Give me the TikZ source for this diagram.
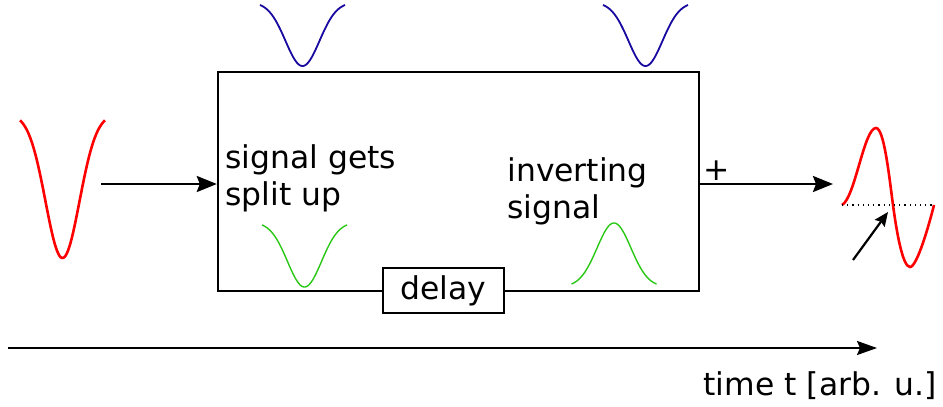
\documentclass[tikz,border=0pt]{standalone}
\usepackage{xcolor}
\usepackage{fontspec}
\setmainfont{DejaVu Sans}
\usetikzlibrary{arrows.meta}

\definecolor{dipblue}{RGB}{24,10,160}
\definecolor{dipgreen}{RGB}{40,200,20}

\begin{document}
\begin{tikzpicture}[x=0.5pt,y=0.5pt,yscale=-1,
  every node/.style={font=\fontsize{15.7}{18.5}\selectfont},
  pulse red/.style={draw=red,line width=1.3pt},
  pulse blue/.style={draw=dipblue,line width=0.9pt},
  pulse green/.style={draw=dipgreen,line width=0.7pt},
  flow/.style={line width=1.2pt,-{Stealth[length=10pt,width=8pt,inset=1.5pt]}}]
\useasboundingbox (0,0) rectangle (943,407);

%Shape: Rectangle [main box]
\node (device) [draw,line width=1.2pt,minimum width=240.5pt,minimum height=109.5pt,inner sep=0] at (458.5,181.5) {};
%Shape: Rectangle [delay]
\node (delay) [draw,fill=white,line width=1.2pt,minimum width=60.5pt,minimum height=22.5pt,inner sep=0] at (443.5,290.5) {delay};

%Curve [input pulse]
\draw [pulse red] plot [domain=-42.5:42.5,samples=70] ({62.5+\x},{114+144*exp(-\x*\x/578)});
%Curve [upper pulses]
\draw [pulse blue] plot [domain=-42.5:42.5,samples=70] ({302.5+\x},{2.2+63.8*exp(-\x*\x/578)});
\draw [pulse blue] plot [domain=-42.5:42.5,samples=70] ({645.5+\x},{2.2+63.8*exp(-\x*\x/578)});
%Curve [lower pulses]
\draw [pulse green] plot [domain=-42.5:42.5,samples=70] ({304.5+\x},{222.1+64.9*exp(-\x*\x/578)});
\draw [pulse green] plot [domain=-42.5:42.5,samples=70] ({614+\x},{286.8-63.8*exp(-\x*\x/578)});
%Curve [output pulse]
\draw [pulse red] (842,205) .. controls (855,198) and (864,128) .. (876,128) .. controls (884,128) and (889,175) .. (893,205) .. controls (897,235) and (903,267) .. (910,267) .. controls (917,267) and (929,225) .. (934,205);
\draw [line width=0.6pt,dotted] (842,205) -- (934,205);

%Straight Lines [arrows]
\coordinate (in) at (101,184);
\coordinate (out) at (833,184);
\draw [flow] (in) -- (in -| device.west);
\draw [flow] (out -| device.east) -- (out);
\coordinate (zs) at (853,260);
\coordinate (ze) at (888,212);
\draw [line width=1.1pt,-{Stealth[length=7pt,width=6pt,inset=1pt]}] (zs) -- (ze);
\coordinate (t0) at (8,348);
\coordinate (t1) at (877,348);
\draw [line width=1.1pt,-{Stealth[length=10pt,width=7pt,inset=1.5pt]}] (t0) -- (t1);

% Text Node
\node (split) [anchor=base west,inner sep=0,align=left] at (225,205) {signal gets\\split up};
% Text Node
\node (invert) [anchor=base west,inner sep=0,align=left] at (507,218) {inverting\\signal};
% Text Node
\node (plus) [inner sep=0] at (717,171) {+};
% Text Node
\node (time) [anchor=base east,inner sep=0] at (937,395) {time t [arb. u.]};
\end{tikzpicture}
\end{document}
